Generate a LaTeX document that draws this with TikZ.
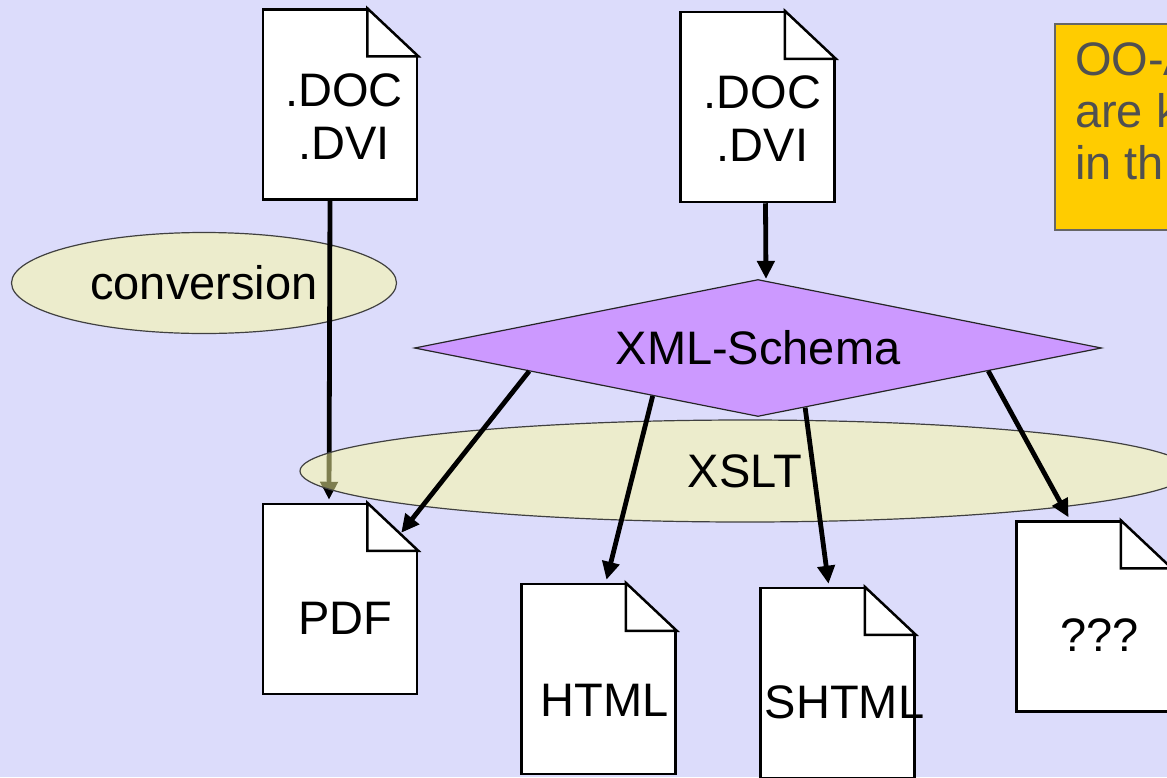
\documentclass[tikz,border=0pt]{standalone}
\usepackage{fontspec}
\setmainfont{Liberation Sans}
\usetikzlibrary{shapes.geometric,arrows.meta,calc}

\definecolor{slidebg}{RGB}{220,220,251}
\definecolor{schemafill}{RGB}{204,153,255}
\definecolor{xsltfill}{RGB}{252,252,158}
\definecolor{notefill}{RGB}{255,204,0}
\definecolor{notegray}{RGB}{80,80,80}
\newcommand\slidefont{\fontsize{47}{53}\selectfont}

\begin{document}
\begin{tikzpicture}[x=1pt, y=1pt,
    docpage/.style={rectangle, draw, fill=white, line width=2.5pt,
        minimum width=154, minimum height=190, inner sep=0pt},
    doctext/.style={align=center, font=\slidefont, inner sep=0pt},
    pagefold/.style={draw, fill=white, line width=2.5pt},
    bubble/.style={ellipse, draw=black!75, line width=1.2pt, fill=xsltfill,
        fill opacity=0.5, text opacity=1, font=\slidefont, inner sep=0pt},
    schema/.style={diamond, draw=black!85, line width=1.2pt, fill=schemafill,
        aspect=5, minimum width=687, minimum height=137, inner sep=2pt, font=\slidefont},
    flow/.style={line width=4.8pt, -{Triangle[length=18pt,width=17pt]}},
    notebox/.style={rectangle, draw=black!60, line width=1.5pt, fill=notefill},
    notetext/.style={align=left, text=notegray, inner sep=0pt,
        font=\fontsize{47}{52}\selectfont}
  ]
  \useasboundingbox (0,0) rectangle (1167,-777);
  \clip (0,0) rectangle (1167,-777);
  \fill[slidebg] (0,0) rectangle (1167,-777);

  % conversion bubble
  \node[bubble, minimum width=385, minimum height=101] (conv) at (204,-283) {conversion};

  % documents
  \node[docpage] (doca)  at (340,-104.5)  {};
  \node[docpage] (docb)  at (757.5,-107)  {};
  \node[docpage] (pdf)   at (340,-599)    {};
  \node[docpage] (html)  at (598.5,-679)  {};
  \node[docpage] (shtml) at (837.5,-683)  {};
  \node[docpage] (unk)   at (1093.5,-616.5) {};
  \foreach \d in {doca,docb,pdf,html,shtml,unk}{
    \fill[slidebg] ([xshift=-51]\d.north east) -- ([shift={(-51,3)}]\d.north east)
      -- ([shift={(3,3)}]\d.north east) -- ([shift={(3,-48)}]\d.north east)
      -- ([yshift=-48]\d.north east) -- cycle;
    \draw[pagefold] ([xshift=-51]\d.north east) |- ([yshift=-48]\d.north east) -- cycle;
  }
  \node[doctext] (doca-t)  at ([shift={(4,-12)}]doca.center)  {.DOC\\.DVI};
  \node[doctext] (docb-t)  at ([shift={(5,-12)}]docb.center)  {.DOC\\.DVI};
  \node[doctext] (pdf-t)   at ([shift={(5,-19)}]pdf.center)   {PDF};
  \node[doctext] (html-t)  at ([shift={(6,-21)}]html.center)  {HTML};
  \node[doctext] (shtml-t) at ([shift={(7,-19)}]shtml.center) {SHTML};
  \node[doctext] (unk-t)   at ([shift={(6,-19)}]unk.center)   {???};

  % schema
  \node[schema] (xml) at (758,-348) {XML-Schema};

  \draw[flow] ([xshift=-10]doca.south) -- ([shift={(-11,3)}]pdf.north);
  \draw[flow] ([xshift=8]docb.south) -- ([xshift=8]xml.north);

  % XSLT bubble over the conversion line
  \node[bubble, minimum width=890, minimum height=102] (xslt) at (745,-471) {XSLT};

  \draw[flow] ($(xml.west)!0.335!(xml.south)$) -- ([shift={(-17,-30)}]pdf.north east);
  \draw[flow] ($(xml.west)!0.694!(xml.south)$) -- ([shift={(8,3)}]html.north);
  \draw[flow] ($(xml.south)!0.137!(xml.east)$) -- ([shift={(-9,3)}]shtml.north);
  \draw[flow] ($(xml.south)!0.669!(xml.east)$) -- ([shift={(-25,3)}]unk.north);

  % note
  \node[notebox, anchor=north west, minimum width=200, minimum height=206] (note) at (1054,-23) {};
  \node[notetext, anchor=north west] (note-t) at ([shift={(21,-19)}]note.north west) {OO-A\\are k\\in th};
\end{tikzpicture}
\end{document}
